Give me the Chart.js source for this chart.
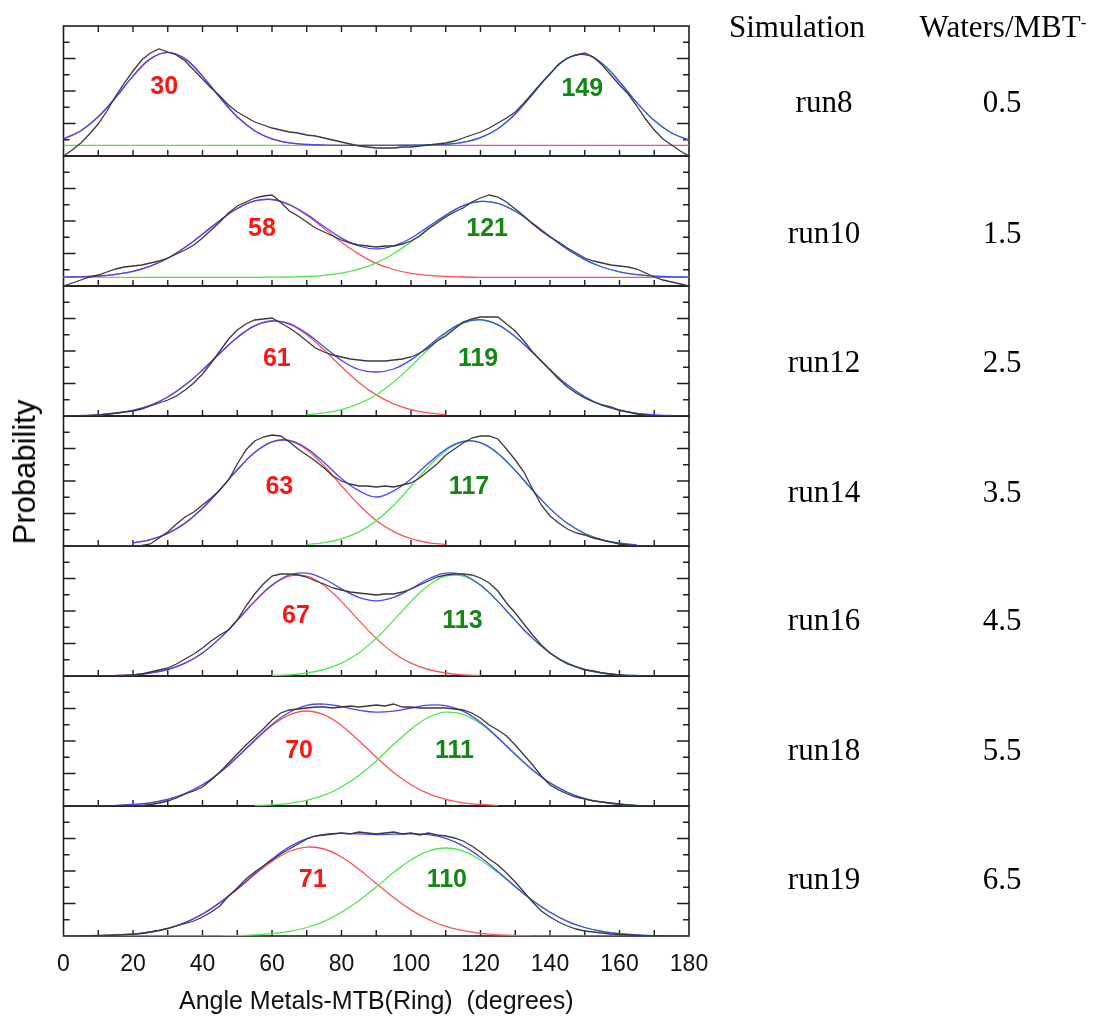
<!DOCTYPE html>
<html>
<head>
<meta charset="utf-8">
<script src="https://cdn.jsdelivr.net/npm/chart.js@4/dist/chart.umd.min.js"></script>
<style>
html,body{margin:0;padding:0;background:#fff;}
#wrap{position:relative;width:1095px;height:1021px;overflow:hidden;}
#c{position:absolute;left:0;top:0;}
.t{position:absolute;font-family:'Liberation Serif','Times New Roman',serif;font-size:31px;line-height:30px;color:#000;white-space:nowrap;text-align:center;width:300px;}
.t sup{font-size:17px;position:relative;top:-4px;vertical-align:top;}
#ylab{position:absolute;left:25px;top:472px;transform:translate(-50%,-50%) rotate(-90deg);font-family:'Liberation Sans',Arial,sans-serif;font-size:31px;line-height:30px;color:#000;white-space:nowrap;}
</style>
</head>
<body>
<div id="wrap">
<canvas id="c" width="1095" height="1021"></canvas>
<div id="ylab">Probability</div>
</div>
<script>
// ---------- data ----------
const angles5 = [0,5,10,15,20,25,30,35,40,45,50,55,60,65,70,75,80,85,90,95,100,105,110,115,120,125,130,135,140,145,150,155,160,165,170,175,180];
const angles25 = [0,2.5,5,7.5,10,12.5,15,17.5,20,22.5,25,27.5,30,32.5,35,37.5,40,42.5,45,47.5,50,52.5,55,57.5,60,62.5,65,67.5,70,72.5,75,77.5,80,82.5,85,87.5,90,92.5,95,97.5,100,102.5,105,107.5,110,112.5,115,117.5,120,122.5,125,127.5,130,132.5,135,137.5,140,142.5,145,147.5,150,152.5,155,157.5,160,162.5,165,167.5,170,172.5,175,177.5,180];
const xTickLabels = [0,20,40,60,80,100,120,140,160,180];
const xMinorTicks = [10,20,30,40,50,60,70,80,90,100,110,120,130,140,150,160,170];
const yMinorTicks = [16.25,32.5,48.75,65,81.25,97.5,113.75];

const simulations = ['run8','run10','run12','run14','run16','run18','run19'];
const watersPerMBT = ['0.5','1.5','2.5','3.5','4.5','5.5','6.5'];
const peakLeft  = [30,58,61,63,67,70,71];
const peakRight = [149,121,119,117,113,111,110];

const run8Red   = [17.2,25.3,39.2,58.5,79.9,97.1,103.7,97.1,79.9,58.5,39.2,25.3,17.2,13.2,11.5,10.9,10.7,10.7,10.7,10.7,10.7,10.7,10.7,10.7,10.7,10.7,10.7,10.7,10.7,10.7,10.7,10.7,10.7,10.7,10.7,10.7,10.7];
const run8Green = [10.7,10.7,10.7,10.7,10.7,10.7,10.7,10.7,10.7,10.7,10.7,10.7,10.7,10.7,10.7,10.7,10.7,10.7,10.7,10.7,10.8,11.0,11.7,13.7,18.3,27.3,42.0,61.7,82.3,97.5,101.4,92.5,74.3,53.4,35.4,23.0,16.0];
const run8Blue  = [17.2,25.3,39.2,58.5,79.9,97.1,103.7,97.1,79.9,58.5,39.2,25.3,17.2,13.2,11.5,10.9,10.7,10.7,10.7,10.7,10.8,11.0,11.7,13.7,18.3,27.3,42.0,61.7,82.3,97.5,101.4,92.5,74.3,53.4,35.4,23.0,16.0];
const run8Black = [0,6,13,22,32,45,60,73,85,96,103,107,104,101,95,86,77,68,60,51,44,39,34,31,28,26,24,23,21,20,18,16,14,12,10,9,8,8,8,9,9,10,11,12,13,15,18,21,24,28,33,38,44,53,63,73,82,92,98,101,103,99,91,81,71,62,50,37,26,17,11,5,0];

const run10Red   = [8.9,9.2,10.0,11.7,14.7,19.9,27.8,38.7,51.8,65.6,77.5,85.1,86.4,81.2,70.8,57.5,43.7,31.9,22.7,16.5,12.7,10.6,9.5,9.0,8.7,8.7,8.7,8.7,8.7,8.7,8.7,8.7,8.7,8.7,8.7,8.7,8.7];
const run10Green = [8.7,8.7,8.7,8.7,8.7,8.7,8.7,8.7,8.7,8.7,8.7,8.7,8.8,9.0,9.5,10.7,12.9,16.8,23.1,32.3,44.1,57.5,70.3,80.1,84.5,82.6,74.7,62.8,49.4,36.7,26.4,19.0,14.2,11.4,9.9,9.2,8.9];
const run10Blue  = [8.9,9.2,10.0,11.7,14.7,19.9,27.8,38.7,51.8,65.6,77.5,85.1,86.5,81.5,71.6,59.5,47.9,40.0,37.1,40.1,47.8,59.4,70.9,80.4,84.6,82.6,74.7,62.8,49.4,36.7,26.4,19.0,14.2,11.4,9.9,9.2,8.9];
const run10Black = [0,3,6,9,11,14,17,19,20,21,23,25,28,32,36,41,48,56,64,73,80,84,88,90,91,84,75,70,64,58,54,50,46,43,41,40,39,40,40,42,45,50,57,63,69,74,78,84,88,91,89,84,77,70,62,55,49,44,38,33,28,25,23,21,20,19,17,13,9,6,4,2,0];

const run12Red   = [null,null,1.1,2.6,5.6,10.7,19.0,30.9,45.9,62.7,78.5,90.2,95.0,91.8,81.2,66.0,49.2,33.6,21.1,12.2,6.4,3.1,1.4,null,null,null,null,null,null,null,null,null,null,null,null,null,null];
const run12Green = [null,null,null,null,null,null,null,null,null,null,null,null,null,null,1.4,3.1,6.4,12.3,21.3,34.0,49.7,66.7,82.1,92.7,96.0,91.1,79.3,63.4,46.4,31.2,19.2,10.8,5.6,2.7,1.2,null,null];
const run12Blue  = [null,0.5,1.1,2.6,5.6,10.7,19.0,30.9,45.9,62.7,78.5,90.2,95.0,92.4,82.6,69.1,55.6,46.5,44.0,47.0,56.1,69.8,83.5,93.3,96.3,91.2,79.3,63.4,46.4,31.2,19.2,10.8,5.6,2.7,1.2,0.5,null];
const run12Black = [0,0,0,0.5,1,2,3,4,5,7,10,13,16,20,26,33,42,53,65,77,86,92,96,97,98,93,88,82,75,68,64,61,59,57,56,55,55,55,56,57,59,63,68,75,80,87,94,97,99,99,99,92,85,75,64,55,46,37,29,23,18,14,11,9,6,4,2,1,0,0,0,0,0];

const run14Red   = [null,null,null,null,2.9,6.3,12.6,22.9,37.7,56.3,76.2,93.5,104.2,105.2,96.4,80.0,60.3,41.2,25.5,14.3,7.3,3.4,1.4,null,null,null,null,null,null,null,null,null,null,null,null,null,null];
const run14Green = [null,null,null,null,null,null,null,null,null,null,null,null,null,null,1.4,3.4,7.2,14.2,25.3,40.8,59.7,79.3,95.4,104.2,103.2,92.6,75.5,55.8,37.4,22.7,12.5,6.2,2.8,1.2,null,null,null];
const run14Blue  = [null,null,null,null,2.9,6.3,12.6,22.9,37.7,56.3,76.2,93.5,104.2,105.7,97.8,83.4,67.5,55.4,49.0,55.1,67.0,82.7,96.8,104.7,103.4,92.6,75.5,55.8,37.4,22.7,12.5,6.2,2.8,1.2,null,null,null];
const run14Black = [0,0,0,0,0,0,0,0,0,0.5,2,8,14,22,29,34,41,48,56,66,82,96,105,109,111,110,104,97,91,85,78,70,65,62,60,60,59,60,59,61,63,68,75,82,91,97,103,108,110,110,107,97,86,74,57,41,30,23,17,13,11,8,6,4,2,1,0,0,0,0,0,0,0];

const run16Red   = [null,null,null,0.5,1.2,3.0,6.5,12.8,23.0,37.6,55.6,74.4,90.5,99.8,99.8,90.5,74.4,55.6,37.6,23.0,12.8,6.5,3.0,1.2,0.5,null,null,null,null,null,null,null,null,null,null,null,null];
const run16Green = [null,null,null,null,null,null,null,null,null,null,null,null,0.5,1.2,3.0,6.5,12.8,23.0,37.6,55.6,74.4,90.5,99.8,99.8,90.5,74.4,55.6,37.6,23.0,12.8,6.5,3.0,1.2,0.5,null,null,null];
const run16Blue  = [null,null,null,0.5,1.2,3.0,6.5,12.8,23.0,37.6,55.6,74.6,91.0,101.0,102.8,97.0,87.2,78.6,75.2,78.6,87.2,97.0,102.8,101.0,91.0,74.6,55.6,37.6,23.0,12.8,6.5,3.0,1.2,0.5,null,null,null];
const run16Black = [0,0,0,0,0,0,0,0.5,1,2,4,6,8,12,17,22,28,35,41,46,56,70,82,92,100,102,102,101,99,95,92,88,86,84,83,82,81,82,82,84,87,91,95,99,101,102,102,101,98,93,85,73,63,52,41,31,23,17,12,9,6,5,3,2,1,0,0,0,0,0,0,0,0];

const run18Red   = [null,null,null,0.6,1.5,3.2,6.6,12.4,21.2,33.5,48.7,65.3,80.4,91.1,95.0,91.1,80.4,65.3,48.7,33.5,21.2,12.4,6.6,3.2,1.5,0.6,null,null,null,null,null,null,null,null,null,null,null];
const run18Green = [null,null,null,null,null,null,null,null,null,null,null,0.5,1.2,2.7,5.7,10.8,19.0,30.5,45.1,61.4,76.8,88.5,93.8,91.6,82.2,67.8,51.5,36.0,23.1,13.7,7.4,3.8,1.7,0.7,null,null,null];
const run18Blue  = [null,null,null,0.6,1.5,3.2,6.6,12.4,21.2,33.5,48.9,65.8,81.6,93.8,100.7,101.9,99.4,95.8,93.8,94.9,98.0,100.9,100.4,94.8,83.7,68.4,51.7,36.1,23.1,13.7,7.4,3.8,1.7,0.7,null,null,null];
const run18Black = [0,0,0,0,0,0,0,0,0,0.5,1.5,3,5,8,12,15,19,26,34,43,52,61,69,77,86,93,96,97,98,99,99,98,99,100,99,100,101,100,102,99,99,98,98,98,98,97,96,93,88,81,76,70,61,51,41,30,21,16,12,9,7,5,4,3,2,1,0,0,0,0,0,0,0];

const run19Red   = [0.05,0.15,0.4,0.9,2.0,4.0,7.7,13.4,21.9,33.2,46.7,61.2,74.6,84.5,88.9,87.0,79.0,66.8,52.5,38.4,26.1,16.5,9.6,5.3,2.7,1.2,0.5,0.2,0.1,0,0,0,0,0,0,0,0];
const run19Green = [0,0,0,0,0,0,0,0,0.07,0.2,0.4,1.1,2.3,4.6,8.5,14.7,23.7,35.3,49.0,63.4,76.0,84.8,88.0,84.8,76.0,63.4,49.0,35.3,23.7,14.7,8.5,4.6,2.3,1.1,0.4,0.2,0.07];
const run19Blue  = [0.05,0.15,0.4,0.9,2.0,4.0,7.7,13.4,22.0,33.4,47.1,62.3,76.9,89.1,97.4,101.7,102.7,102.1,101.5,101.8,102.1,101.3,97.6,90.1,78.7,64.6,49.5,35.5,23.8,14.7,8.5,4.6,2.3,1.1,0.4,0.2,0.07];
const run19Black = [0,0,0,0.3,0.5,0.8,1,1.3,1.7,2.5,4,5.5,7.5,10,12.5,15,19,24,30,40,48,57,64,70,76,82,87,92,97,100,101,102,103,102,104,103,102,103,104,102,103,101,103,101,100,98,95,90,84,77,71,63,54,44,34,25,19,14,10,7,5,4,3,2,1.5,1,0.5,0,0,0,0,0,0];

// ---------- layout / style (not data) ----------
const Y_MAX = 130;
const X_AXIS_HEIGHT = 85;
const labelLeftX  = [29.0,57.1,61.4,62.1,66.9,67.8,71.7];
const labelRightX = [149.3,121.9,119.3,116.7,114.8,112.5,110.3];
const labelLeftY  = [68.5,56.8,56.8,59,60,55.3,56.3];
const labelRightY = [66.7,56.5,56.8,58.7,55.3,55.3,56.3];
const rowCenterY = [102,233,362,492,620,750,879];

const panels = [
  {red:run8Red, green:run8Green, blue:run8Blue, black:run8Black},
  {red:run10Red, green:run10Green, blue:run10Blue, black:run10Black},
  {red:run12Red, green:run12Green, blue:run12Blue, black:run12Black},
  {red:run14Red, green:run14Green, blue:run14Blue, black:run14Black},
  {red:run16Red, green:run16Green, blue:run16Blue, black:run16Black},
  {red:run18Red, green:run18Green, blue:run18Blue, black:run18Black},
  {red:run19Red, green:run19Green, blue:run19Blue, black:run19Black}
];

const COL = {black:'#3a3a3a', blue:'#4646ff', green:'#4ee84e', red:'#ff5252'};
const toPts = (xs, ys) => xs.map((x, i) => ({x: x, y: ys[i]}));

const datasets = [];
const scales = {
  x: {
    type:'linear', position:'bottom', min:0, max:180,
    afterBuildTicks: s => { s.ticks = xTickLabels.map(v => ({value:v})); },
    afterFit: s => { s.height = X_AXIS_HEIGHT; },
    ticks:{font:{family:'Liberation Sans', size:23}, color:'#111', padding:15, maxRotation:0, autoSkip:false},
    grid:{display:false, drawTicks:false}, border:{display:false},
    title:{display:true, text:'Angle Metals-MTB(Ring)  (degrees)', color:'#111',
           font:{family:'Liberation Sans', size:25}, padding:{top:8, bottom:4}}
  }
};
panels.forEach((p, i) => {
  const id = 'y' + i;
  scales[id] = {
    type:'linear', position:'left', stack:'panels', stackWeight:1, weight: 7 - i,
    min:0, max:Y_MAX,
    ticks:{display:false}, grid:{display:false, drawTicks:false}, border:{display:false}
  };
  const common = {yAxisID:id, xAxisID:'x', pointRadius:0, borderWidth:1.3, fill:false, spanGaps:false};
  datasets.push(Object.assign({label:simulations[i]+' data', data:toPts(angles25, p.black), borderColor:COL.black, tension:0}, common));
  datasets.push(Object.assign({label:simulations[i]+' fit', data:toPts(angles5, p.blue), borderColor:COL.blue, tension:0.4}, common));
  datasets.push(Object.assign({label:simulations[i]+' peak 2', data:toPts(angles5, p.green), borderColor:COL.green, tension:0.4}, common));
  datasets.push(Object.assign({label:simulations[i]+' peak 1', data:toPts(angles5, p.red), borderColor:COL.red, tension:0.4}, common));
});

const framePlugin = {
  id:'frames',
  beforeDatasetsDraw(chart) {
    const ctx = chart.ctx, xs = chart.scales.x, area = chart.chartArea;
    const L = area.left, R = area.right;
    ctx.save();
    ctx.strokeStyle = '#1e1e1e';
    panels.forEach((p, i) => {
      const ys = chart.scales['y' + i];
      const top = ys.getPixelForValue(Y_MAX), bot = ys.getPixelForValue(0);
      ctx.lineWidth = 1.6;
      ctx.strokeRect(L, top, R - L, bot - top);
      ctx.lineWidth = 1.4;
      ctx.beginPath();
      xMinorTicks.forEach(v => {
        const px = xs.getPixelForValue(v);
        ctx.moveTo(px, bot); ctx.lineTo(px, bot - 6);
        if (i === 0) { ctx.moveTo(px, top); ctx.lineTo(px, top + 6); }
      });
      yMinorTicks.forEach((v, k) => {
        const py = ys.getPixelForValue(v);
        const len = (k % 2 === 1) ? 12 : 6;
        ctx.moveTo(L, py); ctx.lineTo(L + len, py);
        ctx.moveTo(R, py); ctx.lineTo(R - len, py);
      });
      ctx.stroke();
    });
    ctx.restore();
  },
  afterDatasetsDraw(chart) {
    const ctx = chart.ctx, xs = chart.scales.x;
    ctx.save();
    ctx.font = 'bold 25px "Liberation Sans", Arial, sans-serif';
    ctx.textAlign = 'center';
    ctx.textBaseline = 'middle';
    panels.forEach((p, i) => {
      const ys = chart.scales['y' + i];
      ctx.fillStyle = '#ff1414';
      ctx.fillText(String(peakLeft[i]), xs.getPixelForValue(labelLeftX[i]), ys.getPixelForValue(labelLeftY[i]));
      ctx.fillStyle = '#148614';
      ctx.fillText(String(peakRight[i]), xs.getPixelForValue(labelRightX[i]), ys.getPixelForValue(labelRightY[i]));
    });
    ctx.restore();
  }
};

new Chart(document.getElementById('c').getContext('2d'), {
  type:'line',
  data:{datasets:datasets},
  options:{
    responsive:false, animation:false, devicePixelRatio:1,
    layout:{padding:{left:63.5, right:406, top:26, bottom:0}},
    plugins:{legend:{display:false}, tooltip:{enabled:false}},
    elements:{point:{radius:0}},
    scales:scales
  },
  plugins:[framePlugin]
});

// ---------- right-hand table (real text) ----------
const wrap = document.getElementById('wrap');
function addText(html, cx, cy) {
  const d = document.createElement('div');
  d.className = 't';
  d.innerHTML = html;
  d.style.left = (cx - 150) + 'px';
  d.style.top = (cy - 15) + 'px';
  wrap.appendChild(d);
}
addText('Simulation', 797, 27);
addText('Waters/MBT<sup>-</sup>', 1003, 27);
simulations.forEach((s, i) => {
  addText(s, 824, rowCenterY[i]);
  addText(watersPerMBT[i], 1002, rowCenterY[i]);
});
</script>
</body>
</html>
